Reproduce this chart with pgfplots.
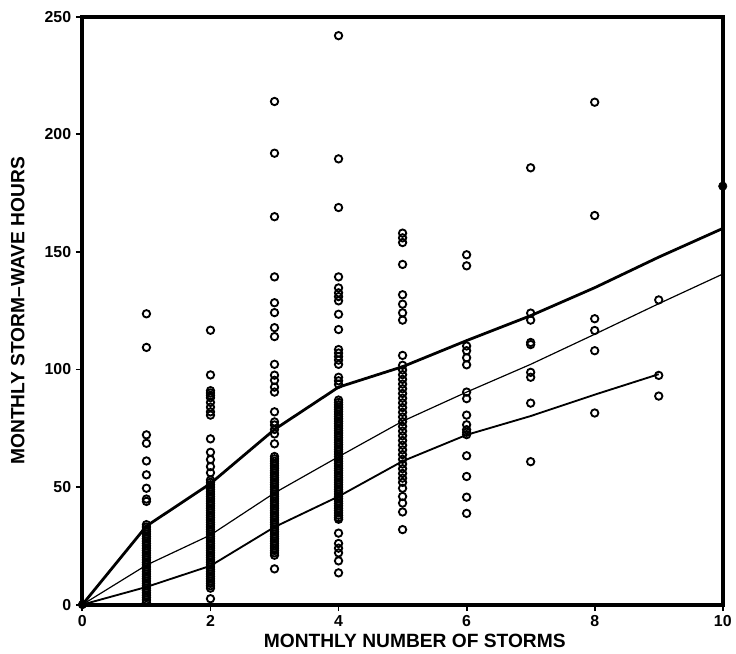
\documentclass[border=0pt]{standalone}
\usepackage{fontspec}
\setmainfont{Liberation Sans}
\usepackage{pgfplots}
\usepackage{pgfplotstable}
\pgfplotsset{compat=1.18}

\pgfplotstableread{
x y
1 123.7
1 109.4
1 72.2
1 68.6
1 61.1
1 55.2
1 49.5
1 44.9
1 43.9
1 34
1 33
1 32
1 31
1 30
1 29
1 28
1 27
1 26
1 25
1 24
1 23
1 22
1 21
1 20
1 19
1 18
1 17
1 16
1 15
1 14
1 13
1 12
1 11
1 10
1 9
1 8
1 7
1 6
1 5
1 4
1 3
1 2
1 1
2 116.7
2 97.7
2 91
2 90
2 89
2 88
2 86
2 84
2 82
2 80.6
2 70.5
2 64.8
2 61.7
2 58.7
2 56.1
2 53
2 52
2 51
2 50
2 49
2 48
2 47
2 46
2 45
2 44
2 43
2 42
2 41
2 40
2 39
2 38
2 37
2 36
2 35
2 34
2 33
2 32
2 31
2 30
2 29
2 28
2 27
2 26
2 25
2 24
2 23
2 22
2 21
2 20
2 19
2 18
2 17
2 16
2 15
2 14
2 13
2 12
2 11
2 10
2 9
2 8
2 7
2 2.5
3 214
3 192
3 165
3 139.4
3 128.4
3 124.2
3 117.8
3 114
3 102.2
3 97.6
3 95.4
3 92.5
3 90.4
3 82
3 77.7
3 76.4
3 74.5
3 72.6
3 68.4
3 63
3 62
3 61
3 60
3 59
3 58
3 57
3 56
3 55
3 54
3 53
3 52
3 51
3 50
3 49
3 48
3 47
3 46
3 45
3 44
3 43
3 42
3 41
3 40
3 39
3 38
3 37
3 36
3 35
3 34
3 33
3 32
3 31
3 30
3 29
3 28
3 27
3 26
3 25
3 24
3 23
3 22
3 21
3 15.2
4 242
4 189.6
4 168.9
4 139.4
4 134.7
4 132.6
4 131
4 129.2
4 123.5
4 117
4 108.5
4 107
4 105.5
4 104
4 102.2
4 96.7
4 95.2
4 93.7
4 87
4 86
4 85
4 84
4 83
4 82
4 81
4 80
4 79
4 78
4 77
4 76
4 75
4 74
4 73
4 72
4 71
4 70
4 69
4 68
4 67
4 66
4 65
4 64
4 63
4 62
4 61
4 60
4 59
4 58
4 57
4 56
4 55
4 54
4 53
4 52
4 51
4 50
4 49
4 48
4 47
4 46
4 45
4 44
4 43
4 42
4 41
4 40
4 39
4 38
4 37
4 36.3
4 30.4
4 26
4 24
4 22
4 18.6
4 13.5
5 158
5 156
5 154
5 144.7
5 131.8
5 127.8
5 124.1
5 121
5 106
5 101.8
5 99.8
5 97.8
5 95.8
5 93.8
5 91.8
5 89.8
5 87.8
5 85.8
5 83.8
5 81.8
5 79.8
5 77.8
5 75.8
5 73.8
5 71.8
5 69.8
5 67.8
5 65.8
5 63.8
5 61.8
5 59.8
5 57.8
5 55.8
5 53.8
5 52
5 49.5
5 46
5 43.2
5 39.4
5 31.9
6 148.8
6 144.1
6 110
6 108
6 105
6 102
6 90.4
6 87.6
6 80.6
6 76.5
6 74.4
6 73.3
6 72.3
6 63.3
6 54.5
6 45.7
6 38.8
7 185.8
7 124
7 121
7 111.5
7 110.6
7 98.8
7 96.7
7 85.7
7 60.8
8 213.7
8 165.5
8 121.6
8 116.6
8 108
8 81.5
9 129.6
9 97.5
9 88.7
}\pointsdata

\begin{document}
\begin{tikzpicture}
\begin{axis}[
  scale only axis,
  width=483.75pt, height=444pt,
  xmin=0, xmax=10, ymin=0, ymax=250,
  axis lines*=left,
  xtick={0,2,4,6,8,10},
  ytick={0,50,100,150,200,250},
  tick align=outside,
  major tick length=5pt,
  tick style={line width=1.4pt, black},
  axis line style={line width=3pt},
  /pgf/number format/assume math mode=true,
  tick label style={font=\fontsize{12}{13}\selectfont\bfseries},
  xlabel={MONTHLY NUMBER OF STORMS},
  ylabel={MONTHLY STORM--WAVE HOURS},
  label style={font=\fontsize{14.5}{16}\selectfont\bfseries},
  xlabel style={at={(axis description cs:0.519,-0.0625)}, anchor=center},
  ylabel style={at={(axis description cs:-0.1008,0.5)}, anchor=center},
  clip=false,
]
\draw[line width=3pt, line cap=rect] (rel axis cs:0,1) -- (rel axis cs:1,1) -- (rel axis cs:1,0);
\addplot[only marks, mark=o, mark size=2.8pt, mark options={line width=1.4pt, black}] table[x=x,y=y] {\pointsdata};
\addplot[only marks, mark=*, mark size=3.2pt, black] coordinates {(0,0) (10,178)};
\addplot[black, line width=2.1pt] coordinates {(0,0) (1,33.4) (2,51.5) (3,74.5) (4,92.5) (5,101.2) (6,112.3) (7,122.9) (8,134.8) (9,147.8) (10,160)};
\addplot[black, line width=0.9pt] coordinates {(0,0) (1,16.8) (2,29.6) (3,47.5) (4,62.9) (5,78) (6,90.4) (7,102.2) (8,115) (9,128) (10,140.6)};
\addplot[black, line width=1.4pt] coordinates {(0,0) (1,7.5) (2,16.5) (3,33) (4,46) (5,61) (6,72.2) (7,80.2) (8,89.3) (9,98)};
\path (axis description cs:-0.1287,-0.0828) rectangle (axis description cs:1.0124,1.0287);
\end{axis}
\end{tikzpicture}
\end{document}
